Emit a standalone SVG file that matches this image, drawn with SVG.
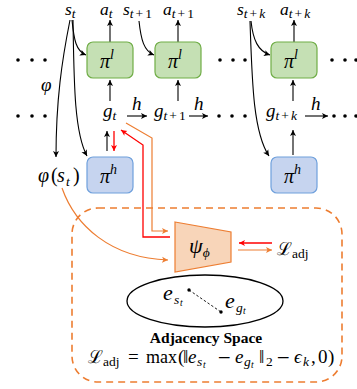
<svg xmlns="http://www.w3.org/2000/svg" width="357" height="389" viewBox="0 0 357 389">
<defs>
<style>
.m{font-family:"Liberation Serif","DejaVu Serif",serif;font-style:italic;font-size:19px;fill:#000}
.top{font-size:17.5px}
.r{font-style:normal}
.sub{font-size:13.5px}
.ss{font-size:9.5px}
.bl{fill:none;stroke:#000;stroke-width:1.1}
.rd{fill:none;stroke:#ff0000;stroke-width:1.3}
.or{fill:none;stroke:#ed7d31;stroke-width:1.2}
.gbox{fill:#c5e0b4;stroke:#70ad47;stroke-width:1.2}
.bbox{fill:#c6d4ef;stroke:#6fa0dc;stroke-width:1.2}
.dot{fill:#000}
.cal{font-family:"DejaVu Serif",serif;font-style:normal}
</style>
<marker id="ab" markerWidth="8" markerHeight="8" refX="6" refY="3.5" orient="auto" markerUnits="userSpaceOnUse"><path d="M0,0.5 L6,3.5 L0,6.5 L1.5,3.5 z" fill="#000"/></marker>
<marker id="ar" markerWidth="8" markerHeight="8" refX="6" refY="3.5" orient="auto" markerUnits="userSpaceOnUse"><path d="M0,0.5 L6,3.5 L0,6.5 L1.5,3.5 z" fill="#ff0000"/></marker>
<marker id="ao" markerWidth="8" markerHeight="8" refX="6" refY="3.5" orient="auto" markerUnits="userSpaceOnUse"><path d="M0,0.5 L6,3.5 L0,6.5 L1.5,3.5 z" fill="#ed7d31"/></marker>
</defs>

<g id="region">
<rect x="72" y="208" width="270" height="174" rx="26" fill="none" stroke="#ed7d31" stroke-width="1.6" stroke-dasharray="7,5"/>
</g>

<g id="connectors">
<path class="bl" d="M72,20 C74,40 76,51 86,55" marker-end="url(#ab)"/>
<path class="bl" d="M70,20 C62,60 56,100 56,157" marker-end="url(#ab)"/>
<path class="bl" d="M73,20 C74,80 74,132 87,156" marker-end="url(#ab)"/>
<path class="bl" d="M139,21 C141,40 144,51 154,55" marker-end="url(#ab)"/>
<path class="bl" d="M251,21 C253,40 258,51 270,55" marker-end="url(#ab)"/>
<path class="bl" d="M250,21 C252,80 253,132 269,156" marker-end="url(#ab)"/>
<path class="bl" d="M110,42 L110,20" marker-end="url(#ab)"/>
<path class="bl" d="M178,42 L178,20" marker-end="url(#ab)"/>
<path class="bl" d="M294,42 L294,20" marker-end="url(#ab)"/>
<path class="bl" d="M110,101 L110,80" marker-end="url(#ab)"/>
<path class="bl" d="M178,101 L178,80" marker-end="url(#ab)"/>
<path class="bl" d="M293,101 L293,80" marker-end="url(#ab)"/>
<path class="bl" d="M127,116 L147,116" marker-end="url(#ab)"/>
<path class="bl" d="M189,116 L208,116" marker-end="url(#ab)"/>
<path class="bl" d="M305,116 L328,116" marker-end="url(#ab)"/>
<path class="bl" d="M107,151 L107,131" marker-end="url(#ab)"/>
<path class="rd" d="M114,131 L114,151" marker-end="url(#ar)"/>
<path class="bl" d="M293,155 L293,130" marker-end="url(#ab)"/>
<path class="rd" d="M170,237 L143,237 L143,145 L121,130" marker-end="url(#ar)"/>
<path class="or" d="M126,123 L152,138 L152,231 L168,231" marker-end="url(#ao)"/>
<path class="or" d="M62,188 C75,225 110,258 168,260" marker-end="url(#ao)"/>
<path class="rd" d="M272,243 L239,243" marker-end="url(#ar)"/>
<path class="or" d="M238,250 L272,250" marker-end="url(#ao)"/>
</g>

<g id="pi_l_1"><rect class="gbox" x="87" y="42" width="46" height="36" rx="6"/><text class="m" x="100" y="68" style="font-size:20px">π<tspan dy="-9" style="font-size:14px">l</tspan></text></g>
<g id="pi_l_2"><rect class="gbox" x="155" y="42" width="46" height="36" rx="6"/><text class="m" x="168" y="68" style="font-size:20px">π<tspan dy="-9" style="font-size:14px">l</tspan></text></g>
<g id="pi_l_3"><rect class="gbox" x="271" y="42" width="46" height="36" rx="6"/><text class="m" x="284" y="68" style="font-size:20px">π<tspan dy="-9" style="font-size:14px">l</tspan></text></g>
<g id="pi_h_1"><rect class="bbox" x="87" y="157" width="46" height="36" rx="6"/><text class="m" x="100" y="183" style="font-size:20px">π<tspan dy="-9" style="font-size:14px">h</tspan></text></g>
<g id="pi_h_3"><rect class="bbox" x="271" y="157" width="46" height="36" rx="6"/><text class="m" x="284" y="183" style="font-size:20px">π<tspan dy="-9" style="font-size:14px">h</tspan></text></g>

<g id="psi">
<polygon points="175,222 231,232 231,262 175,272" fill="#f8d5b9" stroke="#ed7d31" stroke-width="1.2"/>
<text class="m" x="189" y="253" style="font-size:22px">ψ<tspan class="sub" dy="4">ϕ</tspan></text>
</g>

<g id="labels">
<text class="m top" x="65" y="15">s<tspan class="sub" dy="3">t</tspan></text>
<text class="m top" x="100" y="15">a<tspan class="sub" dy="3">t</tspan></text>
<text class="m top" x="123" y="15">s<tspan class="sub" dy="3">t<tspan class="r" dx="2">+</tspan><tspan class="r" dx="2">1</tspan></tspan></text>
<text class="m top" x="163" y="15">a<tspan class="sub" dy="3">t<tspan class="r" dx="2">+</tspan><tspan class="r" dx="2">1</tspan></tspan></text>
<text class="m top" x="237" y="15">s<tspan class="sub" dy="3">t<tspan class="r" dx="2">+</tspan><tspan dx="2">k</tspan></tspan></text>
<text class="m top" x="280" y="15">a<tspan class="sub" dy="3">t<tspan class="r" dx="2">+</tspan><tspan dx="2">k</tspan></tspan></text>
<text class="m" x="103" y="117">g<tspan class="sub" dy="3">t</tspan></text>
<text class="m" x="154" y="117">g<tspan class="sub" dy="3">t<tspan class="r" dx="2">+</tspan><tspan class="r" dx="2">1</tspan></tspan></text>
<text class="m" x="266" y="117">g<tspan class="sub" dy="3">t<tspan class="r" dx="2">+</tspan><tspan dx="2">k</tspan></tspan></text>
<text class="m" x="132" y="110">h</text>
<text class="m" x="194" y="110">h</text>
<text class="m" x="311" y="110">h</text>
<text class="m" x="41" y="91">φ</text>
<text class="m" style="font-size:20px"><tspan x="38" y="182">φ</tspan><tspan class="r" x="51" y="182">(</tspan><tspan x="57" y="182">s</tspan><tspan class="sub" x="66" y="186">t</tspan><tspan class="r" x="73" y="182">)</tspan></text>
<text class="m"><tspan class="cal" x="277" y="255" style="font-size:18px">ℒ</tspan><tspan class="sub r" x="292" y="258">adj</tspan></text>
</g>

<g id="dots">
<circle class="dot" cx="18" cy="60" r="1.8"/><circle class="dot" cx="32" cy="60" r="1.8"/><circle class="dot" cx="45" cy="60" r="1.8"/>
<circle class="dot" cx="220" cy="60" r="1.8"/><circle class="dot" cx="233" cy="60" r="1.8"/><circle class="dot" cx="245" cy="60" r="1.8"/>
<circle class="dot" cx="332" cy="60" r="1.8"/><circle class="dot" cx="345" cy="60" r="1.8"/><circle class="dot" cx="356" cy="60" r="1.8"/>
<circle class="dot" cx="18" cy="116" r="1.8"/><circle class="dot" cx="32" cy="116" r="1.8"/><circle class="dot" cx="45" cy="116" r="1.8"/>
<circle class="dot" cx="219" cy="116" r="1.8"/><circle class="dot" cx="232" cy="116" r="1.8"/><circle class="dot" cx="245" cy="116" r="1.8"/>
<circle class="dot" cx="334" cy="116" r="1.8"/><circle class="dot" cx="345" cy="116" r="1.8"/><circle class="dot" cx="356" cy="116" r="1.8"/>
</g>

<g id="adjacency_space">
<ellipse cx="205" cy="301" rx="78" ry="26" fill="none" stroke="#000" stroke-width="1.3"/>
<line x1="189" y1="290" x2="221" y2="312" stroke="#000" stroke-width="0.9" stroke-dasharray="2.5,2"/>
<circle class="dot" cx="189" cy="290" r="1.7"/>
<circle class="dot" cx="221" cy="312" r="1.7"/>
<text class="m" style="font-size:22px"><tspan x="163" y="300">e</tspan><tspan class="sub" x="174" y="304">s</tspan><tspan class="ss" x="180" y="306">t</tspan></text>
<text class="m" style="font-size:22px"><tspan x="225" y="308">e</tspan><tspan class="sub" x="236" y="312">g</tspan><tspan class="ss" x="243" y="314">t</tspan></text>
<text x="206" y="343" text-anchor="middle" style="font-family:'Liberation Serif',serif;font-weight:bold;font-size:15.5px">Adjacency Space</text>
<text class="m"><tspan class="cal" x="88" y="363" style="font-size:18px">ℒ</tspan><tspan class="sub r" x="103" y="366">adj</tspan><tspan class="r" x="128" y="363">=</tspan><tspan class="r" x="146" y="363" style="font-size:18px">max</tspan><tspan class="r" x="178" y="363">(</tspan><tspan class="r" x="183" y="363">‖</tspan><tspan x="188" y="363">e</tspan><tspan class="sub" x="197" y="366">s</tspan><tspan class="ss" x="203" y="368">t</tspan><tspan class="cal" x="217" y="363" style="font-size:17px">−</tspan><tspan x="235" y="363">e</tspan><tspan class="sub" x="244" y="366">g</tspan><tspan class="ss" x="251" y="368">t</tspan><tspan class="r" x="259" y="363">‖</tspan><tspan class="sub r" x="266" y="366">2</tspan><tspan class="cal" x="276" y="363" style="font-size:17px">−</tspan><tspan x="294" y="363">ϵ</tspan><tspan class="sub" x="303" y="366">k</tspan><tspan class="r" x="311" y="363">,</tspan><tspan class="r" x="318" y="363">0</tspan><tspan class="r" x="328" y="363">)</tspan></text>
</g>
</svg>
